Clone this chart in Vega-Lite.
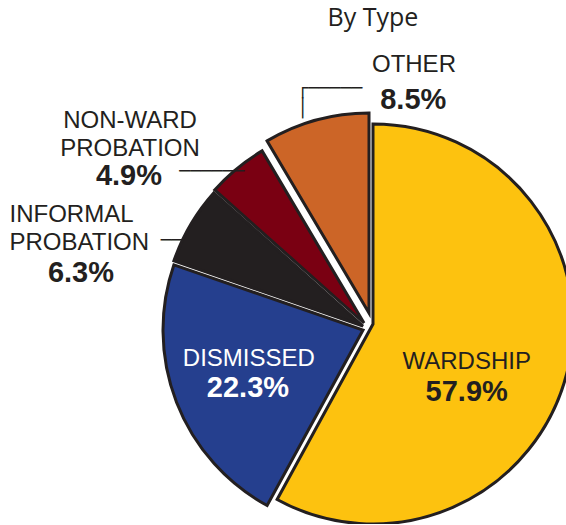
{
  "$schema": "https://vega.github.io/schema/vega-lite/v6.json",
  "width": 400,
  "height": 400,
  "autosize": "none",
  "padding": {"left": 173, "top": 124, "right": 0, "bottom": 0},
  "background": "white",
  "title": {"text": "By Type", "font": "Open Sans", "fontSize": 25, "fontWeight": "normal", "color": "#231f20", "anchor": "middle", "frame": "group", "baseline": "alphabetic", "offset": 2},
  "config": {"view": {"stroke": null}},
  "data": {"values": [
    {"type": "WARDSHIP", "name": "WARDSHIP", "share": 0.579, "idx": 1},
    {"type": "DISMISSED", "name": "DISMISSED", "share": 0.223, "idx": 2},
    {"type": "INFORMAL", "name": "INFORMAL\nPROBATION", "share": 0.063, "idx": 3},
    {"type": "NON-WARD", "name": "NON-WARD\nPROBATION", "share": 0.049, "idx": 4},
    {"type": "OTHER", "name": "OTHER", "share": 0.085, "idx": 5}
  ]},
  "transform": [
    {"stack": "share", "groupby": [], "sort": [{"field": "idx", "order": "ascending"}], "as": ["s0", "s1"]}
  ],
  "layer": [
    {"transform": [{"filter": "datum.type === 'WARDSHIP'"}],
     "mark": {"type": "arc", "stroke": "#231f20", "strokeWidth": 3, "xOffset": 0, "yOffset": 0},
     "encoding": {"theta": {"field": "s0", "type": "quantitative", "scale": {"domain": [0, 0.999], "zero": true, "nice": false}}, "theta2": {"field": "s1"},
      "color": {"field": "type", "type": "nominal", "legend": null, "scale": {"domain": ["WARDSHIP", "DISMISSED", "INFORMAL", "NON-WARD", "OTHER"], "range": ["#fdc20f", "#253f8e", "#231f20", "#7a0012", "#cc6527"]}}}},
    {"transform": [{"filter": "datum.type === 'DISMISSED'"}],
     "mark": {"type": "arc", "stroke": "#231f20", "strokeWidth": 3, "xOffset": -10, "yOffset": 6},
     "encoding": {"theta": {"field": "s0", "type": "quantitative"}, "theta2": {"field": "s1"},
      "color": {"field": "type", "type": "nominal", "legend": null}}},
    {"transform": [{"filter": "datum.type === 'INFORMAL'"}],
     "mark": {"type": "arc", "stroke": "#231f20", "strokeWidth": 3, "xOffset": -10, "yOffset": 2},
     "encoding": {"theta": {"field": "s0", "type": "quantitative"}, "theta2": {"field": "s1"},
      "color": {"field": "type", "type": "nominal", "legend": null}}},
    {"transform": [{"filter": "datum.type === 'NON-WARD'"}],
     "mark": {"type": "arc", "stroke": "#231f20", "strokeWidth": 3, "xOffset": -9, "yOffset": -1},
     "encoding": {"theta": {"field": "s0", "type": "quantitative"}, "theta2": {"field": "s1"},
      "color": {"field": "type", "type": "nominal", "legend": null}}},
    {"transform": [{"filter": "datum.type === 'OTHER'"}],
     "mark": {"type": "arc", "stroke": "#231f20", "strokeWidth": 3, "xOffset": -4, "yOffset": -11},
     "encoding": {"theta": {"field": "s0", "type": "quantitative"}, "theta2": {"field": "s1"},
      "color": {"field": "type", "type": "nominal", "legend": null}}},

    {"transform": [{"filter": "datum.type === 'WARDSHIP'"}],
     "mark": {"type": "text", "radius": 101.2, "thetaOffset": 1.959, "font": "Liberation Sans", "fontSize": 24, "fill": "#231f20", "align": "center", "baseline": "middle"},
     "encoding": {"theta": {"field": "s0", "type": "quantitative"}, "text": {"field": "name", "type": "nominal"}}},
    {"transform": [{"filter": "datum.type === 'WARDSHIP'"}],
     "mark": {"type": "text", "radius": 115.8, "thetaOffset": 2.1986, "font": "Liberation Sans", "fontSize": 29, "fontWeight": "bold", "fill": "#231f20", "align": "center", "baseline": "middle"},
     "encoding": {"theta": {"field": "s0", "type": "quantitative"}, "text": {"field": "share", "type": "quantitative", "format": ".1%"}}},

    {"transform": [{"filter": "datum.type === 'DISMISSED'"}],
     "mark": {"type": "text", "radius": 129.1, "thetaOffset": 0.7938, "font": "Liberation Sans", "fontSize": 24, "fill": "#ffffff", "align": "center", "baseline": "middle"},
     "encoding": {"theta": {"field": "s0", "type": "quantitative"}, "text": {"field": "name", "type": "nominal"}}},
    {"transform": [{"filter": "datum.type === 'DISMISSED'"}],
     "mark": {"type": "text", "radius": 140.6, "thetaOffset": 0.5957, "font": "Liberation Sans", "fontSize": 29, "fontWeight": "bold", "fill": "#ffffff", "align": "center", "baseline": "middle"},
     "encoding": {"theta": {"field": "s0", "type": "quantitative"}, "text": {"field": "share", "type": "quantitative", "format": ".1%"}}},

    {"transform": [{"filter": "datum.type === 'INFORMAL'"}],
     "mark": {"type": "text", "radius": 379.6, "thetaOffset": -0.0393, "font": "Liberation Sans", "fontSize": 24, "fill": "#231f20", "align": "left", "baseline": "middle", "lineBreak": "\n", "lineHeight": 28},
     "encoding": {"theta": {"field": "s0", "type": "quantitative"}, "text": {"field": "name", "type": "nominal"}}},
    {"transform": [{"filter": "datum.type === 'INFORMAL'"}],
     "mark": {"type": "text", "radius": 296.4, "thetaOffset": -0.1599, "font": "Liberation Sans", "fontSize": 29, "fontWeight": "bold", "fill": "#231f20", "align": "center", "baseline": "middle"},
     "encoding": {"theta": {"field": "s0", "type": "quantitative"}, "text": {"field": "share", "type": "quantitative", "format": ".1%"}}},

    {"transform": [{"filter": "datum.type === 'NON-WARD'"}],
     "mark": {"type": "text", "radius": 316.8, "thetaOffset": -0.0312, "font": "Liberation Sans", "fontSize": 24, "fill": "#231f20", "align": "center", "baseline": "middle", "lineBreak": "\n", "lineHeight": 28},
     "encoding": {"theta": {"field": "s0", "type": "quantitative"}, "text": {"field": "name", "type": "nominal"}}},
    {"transform": [{"filter": "datum.type === 'NON-WARD'"}],
     "mark": {"type": "text", "radius": 285.5, "thetaOffset": -0.1822, "font": "Liberation Sans", "fontSize": 29, "fontWeight": "bold", "fill": "#231f20", "align": "center", "baseline": "middle"},
     "encoding": {"theta": {"field": "s0", "type": "quantitative"}, "text": {"field": "share", "type": "quantitative", "format": ".1%"}}},

    {"transform": [{"filter": "datum.type === 'OTHER'"}],
     "mark": {"type": "text", "radius": 262.5, "thetaOffset": 0.6913, "font": "Liberation Sans", "fontSize": 24, "fill": "#231f20", "align": "center", "baseline": "middle"},
     "encoding": {"theta": {"field": "s0", "type": "quantitative"}, "text": {"field": "name", "type": "nominal"}}},
    {"transform": [{"filter": "datum.type === 'OTHER'"}],
     "mark": {"type": "text", "radius": 227.3, "thetaOffset": 0.7128, "font": "Liberation Sans", "fontSize": 29, "fontWeight": "bold", "fill": "#231f20", "align": "center", "baseline": "middle"},
     "encoding": {"theta": {"field": "s0", "type": "quantitative"}, "text": {"field": "share", "type": "quantitative", "format": ".1%"}}},

    {"transform": [{"filter": "datum.type === 'INFORMAL'"}],
     "mark": {"type": "text", "text": "──", "radius": 227.9, "thetaOffset": 0.0408, "font": "DejaVu Sans Mono", "fontSize": 18, "fill": "#231f20", "align": "left", "baseline": "middle"},
     "encoding": {"theta": {"field": "s0", "type": "quantitative"}}},
    {"transform": [{"filter": "datum.type === 'NON-WARD'"}],
     "mark": {"type": "text", "text": "──────", "radius": 246.5, "thetaOffset": -0.0611, "font": "DejaVu Sans Mono", "fontSize": 18, "fill": "#231f20", "align": "left", "baseline": "middle"},
     "encoding": {"theta": {"field": "s0", "type": "quantitative"}}},
    {"transform": [{"filter": "datum.type === 'OTHER'"}],
     "mark": {"type": "text", "text": "┌─────\n│", "lineBreak": "\n", "lineHeight": 20, "radius": 241.7, "thetaOffset": 0.2161, "font": "DejaVu Sans Mono", "fontSize": 18, "fill": "#231f20", "align": "left", "baseline": "alphabetic"},
     "encoding": {"theta": {"field": "s0", "type": "quantitative"}}}
  ]
}
